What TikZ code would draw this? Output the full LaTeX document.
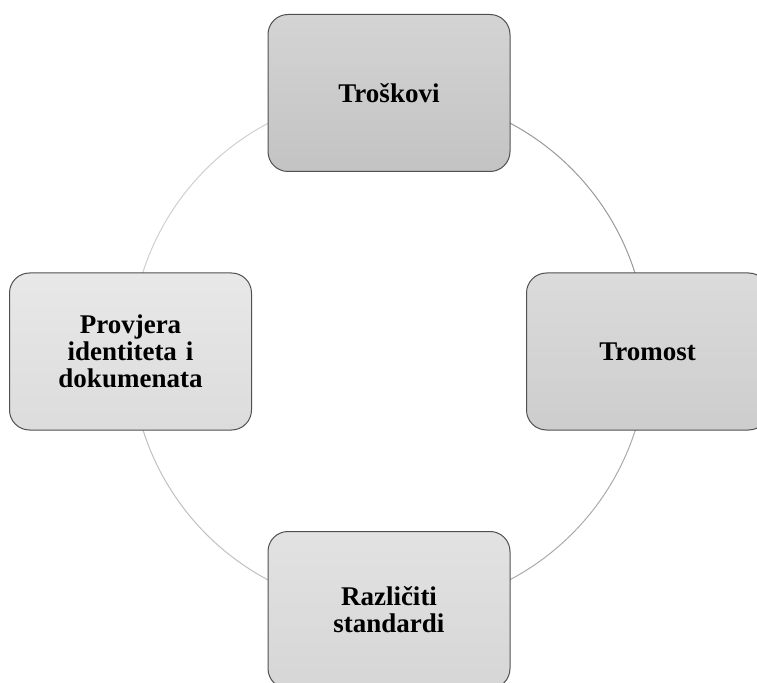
\documentclass[tikz,border=0pt]{standalone}
\usepackage{fontspec}
\setmainfont{Liberation Serif}
\usetikzlibrary{positioning,backgrounds}

\definecolor{rimgray}{HTML}{505050}

\begin{document}
\begin{tikzpicture}
[box/.style={draw=rimgray,line width=0.5pt,rounded corners=10pt,
    minimum width=121pt,minimum height=78.5pt,text width=104pt,align=center,
    font=\fontsize{13.5}{13.4}\selectfont\bfseries},
 ring/.style={line width=0.5pt}]
\useasboundingbox (0,0) rectangle (378.5pt,341pt);
\coordinate (c) at (194.5pt,165.25pt);
\node[box,above=89.75pt of c,top color={rgb,255:red,212;green,212;blue,212},bottom color={rgb,255:red,195;green,195;blue,195}](troskovi){Troškovi};
\node[box,right=68.5pt of c,top color={rgb,255:red,219;green,219;blue,219},bottom color={rgb,255:red,205;green,205;blue,205}](tromost){Tromost};
\node[box,below=89.75pt of c,top color={rgb,255:red,226;green,226;blue,226},bottom color={rgb,255:red,214;green,214;blue,214}](standardi){Različiti\\standardi};
\node[box,left=68.5pt of c,top color={rgb,255:red,232;green,232;blue,232},bottom color={rgb,255:red,220;green,220;blue,220}](provjera){Provjera\\identiteta i\\dokumenata};
\begin{pgfonlayer}{background}
\draw[ring,color={rgb,255:red,153;green,153;blue,153}] (troskovi.center) arc[start angle=90,end angle=0,radius=129pt];
\draw[ring,color={rgb,255:red,170;green,170;blue,170}] (tromost.center) arc[start angle=0,end angle=-90,radius=129pt];
\draw[ring,color={rgb,255:red,192;green,192;blue,192}] (standardi.center) arc[start angle=270,end angle=180,radius=129pt];
\draw[ring,color={rgb,255:red,207;green,207;blue,207}] (provjera.center) arc[start angle=180,end angle=90,radius=129pt];
\end{pgfonlayer}
\end{tikzpicture}
\end{document}
